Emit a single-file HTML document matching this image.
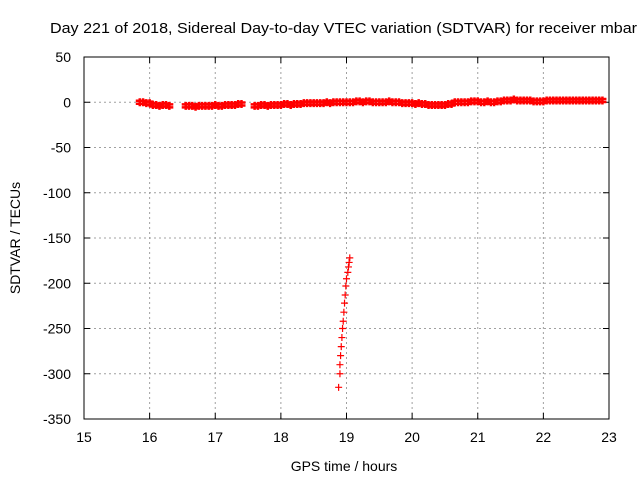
<!DOCTYPE html>
<html><head><meta charset="utf-8"><style>
body{margin:0;background:#fff}
svg text{font-family:"Liberation Sans",sans-serif;font-size:14px;fill:#000}
</style></head><body>
<svg id="c" width="640" height="480">
<text x="50" y="33" style="font-size:15px" textLength="587" lengthAdjust="spacingAndGlyphs">Day 221 of 2018, Sidereal Day-to-day VTEC variation (SDTVAR) for receiver mbar</text>
<g id="grid"></g><g id="axes"></g><g id="marks"></g>
<text x="344" y="471" text-anchor="middle">GPS time / hours</text>
<text transform="translate(20,238) rotate(-90)" text-anchor="middle">SDTVAR / TECUs</text>
</svg>
<script>
const xTicks=[15,16,17,18,19,20,21,22,23];
const yTicks=[50,0,-50,-100,-150,-200,-250,-300,-350];
const times=[15.85,15.9,15.95,16.0,
16.05,16.1,16.15,16.2,16.25,16.3,
16.55,16.6,16.65,16.7,16.75,16.8,16.85,16.9,16.95,17.0,17.05,17.1,17.15,17.2,17.25,17.3,17.35,17.4,
17.6,17.65,17.7,17.75,17.8,17.85,17.9,17.95,18.0,18.05,18.1,
18.15,18.2,18.25,18.3,18.35,18.4,18.45,18.5,18.55,18.6,18.65,18.7,18.75,18.8,18.85,18.9,18.95,19.0,
19.05,19.1,19.15,19.2,19.25,19.3,19.35,19.4,19.45,19.5,19.55,19.6,19.65,19.7,19.75,19.8,
19.85,19.9,19.95,20.0,20.05,20.1,20.15,20.2,20.25,20.3,20.35,20.4,20.45,20.5,20.55,20.6,
20.65,20.7,20.75,20.8,20.85,20.9,20.95,21.0,21.05,21.1,21.15,21.2,21.25,21.3,
21.35,21.4,21.45,21.5,21.55,21.6,21.65,21.7,21.75,21.8,21.85,21.9,21.95,22.0,
22.05,22.1,22.15,22.2,22.25,22.3,22.35,22.4,22.45,22.5,22.55,22.6,22.65,22.7,22.75,22.8,22.85,22.9,
18.88,18.9,18.9,18.91,18.92,18.93,18.94,18.95,18.96,18.97,18.98,18.99,19.0,19.02,19.03,19.04,19.05];
const values=[0,0,-1,-1,
-3,-3,-4,-3,-3,-4,
-4,-4,-4,-5,-4,-4,-4,-4,-4,-3,-4,-4,-3,-3,-3,-3,-2,-2,
-4,-4,-3,-3,-4,-3,-3,-3,-3,-2,-2,
-3,-2,-2,-2,-1,-1,-1,-1,-1,-1,-1,0,-1,0,0,0,0,0,
0,0,1,1,0,1,1,0,0,0,0,0,1,0,0,0,
-1,-1,-1,-1,-2,-1,-2,-2,-3,-3,-3,-3,-3,-3,-2,-2,
0,0,0,0,0,1,1,1,0,0,1,0,0,1,
1,2,2,2,3,2,2,2,2,2,1,1,1,1,
2,2,2,2,2,2,2,2,2,2,2,2,2,2,2,2,2,2,
-315,-300,-290,-280,-270,-260,-250,-242,-232,-222,-213,-203,-195,-188,-182,-177,-172];
const L=84,R=609,T=57,B=419;
const sx=v=>L+(v-15)/(23-15)*(R-L);
const sy=v=>T+(50-v)/(400)*(B-T);
const NS="http://www.w3.org/2000/svg";
function mk(tag,at,parent){const e=document.createElementNS(NS,tag);for(const k in at)e.setAttribute(k,at[k]);document.getElementById(parent).appendChild(e);return e;}
xTicks.forEach(t=>{const x=sx(t);
 if(t>15&&t<23){const g=mk('line',{x1:x,x2:x,y1:T,y2:B,stroke:'#a0a0a0','stroke-dasharray':'2,3'},'grid');
 
 }
 mk('line',{x1:x,x2:x,y1:B,y2:B-6,stroke:'#000'},'axes');mk('line',{x1:x,x2:x,y1:T,y2:T+6,stroke:'#000'},'axes');
 const tx=mk('text',{x:x,y:B+23,'text-anchor':'middle'},'axes');tx.textContent=t;
 
 });
yTicks.forEach(t=>{const y=sy(t);
 if(t<50&&t>-350){const g=mk('line',{x1:L,x2:R,y1:y,y2:y,stroke:'#a0a0a0','stroke-dasharray':'2,3'},'grid');
 
 }
 mk('line',{x1:L,x2:L+6,y1:y,y2:y,stroke:'#000'},'axes');mk('line',{x1:R,x2:R-6,y1:y,y2:y,stroke:'#000'},'axes');
 const tx=mk('text',{x:L-13,y:y+5,'text-anchor':'end'},'axes');tx.textContent=t;
 
 });
const fr=mk('rect',{x:L,y:T,width:R-L,height:B-T,fill:'none',stroke:'#000'},'axes');


times.forEach((t,i)=>{const x=sx(t),y=sy(values[i]);
 const dense=Math.abs(values[i])<20;
 const h=dense?4:3.5;
 const d=dense?`M${x-h},${y-1.5}h${2*h}M${x-h},${y+1.5}h${2*h}M${x},${y-h}v${2*h}`:`M${x-h},${y}h${2*h}M${x},${y-h}v${2*h}`;
 const p=mk('path',{d:d,stroke:'#f00','stroke-width':dense?2.5:1.2},'marks');
 
 });
</script>
</body></html>
